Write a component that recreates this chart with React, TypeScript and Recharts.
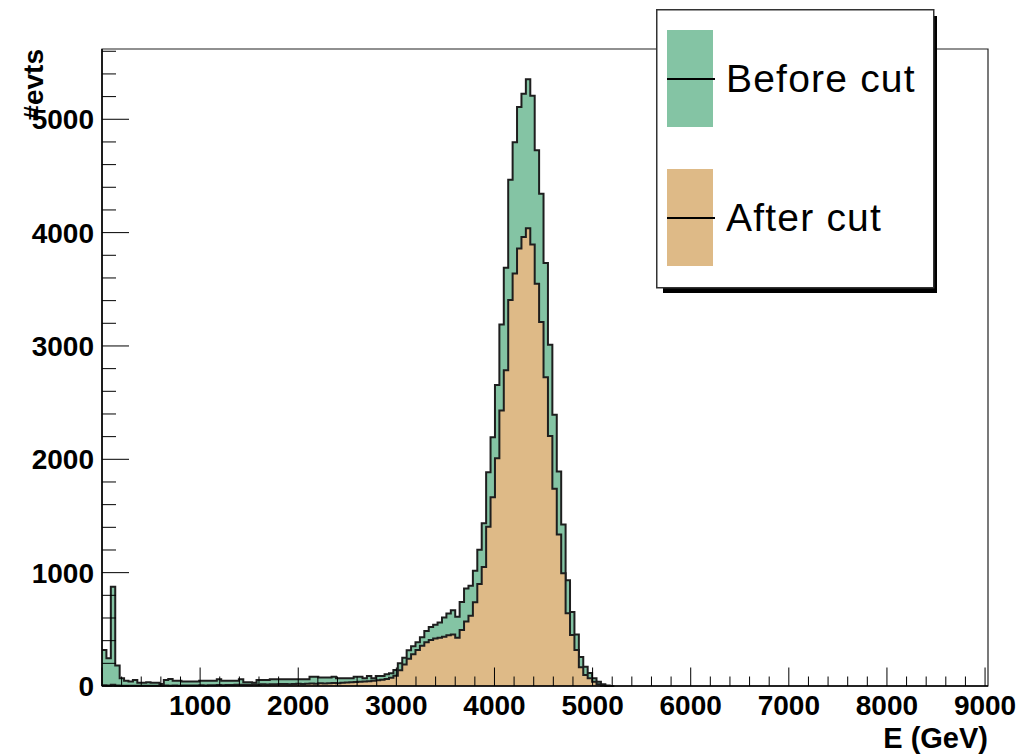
import { Area, AreaChart, Legend, ReferenceArea, XAxis, YAxis } from "recharts";

// energy histogram, 45 GeV bins starting at 0
const BIN_WIDTH = 45;
const X_MAX = 9030;
const Y_MAX = 5620;

const beforeCut = [
  317, 244, 876, 180, 68, 47, 40, 53, 29, 29,
  32, 29, 29, 18, 53, 62, 47, 47, 40, 40,
  40, 40, 47, 47, 47, 47, 59, 47, 47, 47,
  47, 59, 32, 32, 29, 53, 53, 53, 59, 59,
  59, 59, 59, 59, 59, 59, 59, 82, 82, 76,
  76, 76, 82, 68, 68, 68, 68, 82, 82, 68,
  88, 68, 88, 88, 103, 112, 141, 200, 250, 315,
  350, 385, 430, 485, 520, 540, 560, 605, 640, 668,
  612, 741, 860, 885, 1017, 1202, 1436, 1886, 2194, 2655,
  3190, 3690, 4467, 4797, 5109, 5226, 5353, 5208, 4726, 4343,
  3733, 3010, 2393, 1893, 1425, 932, 652, 455, 256, 170,
  115, 68, 38, 15, 5, 0,
];

const afterCut = [
  6, 4, 12, 5, 3, 2, 3, 2, 2, 3,
  2, 3, 2, 3, 4, 3, 4, 3, 4, 5,
  4, 5, 6, 5, 6, 7, 8, 7, 8, 9,
  10, 12, 10, 12, 14, 12, 15, 14, 16, 15,
  17, 18, 16, 18, 20, 18, 20, 22, 20, 24,
  22, 24, 26, 25, 28, 30, 32, 35, 38, 40,
  42, 46, 50, 55, 62, 72, 90, 140, 190, 240,
  280, 317, 355, 385, 405, 418, 426, 435, 448, 455,
  425, 495, 570, 620, 740, 900, 1050, 1405, 1665, 2010,
  2430, 2785, 3405, 3640, 3860, 3962, 4038, 3895, 3548, 3212,
  2723, 2205, 1741, 1336, 994, 641, 450, 317, 165, 97,
  68, 38, 15, 5, 0, 0,
];

const xLabels = [1000, 2000, 3000, 4000, 5000, 6000, 7000, 8000, 9000];
const yLabels = [0, 1000, 2000, 3000, 4000, 5000];
const X_MINOR = 200;
const Y_MINOR = 200;

const series = [
  { key: "before", name: "Before cut", color: "#84c4a4" },
  { key: "after", name: "After cut", color: "#deba87" },
];

const histogram = beforeCut.map((v, i) => ({
  e: i * BIN_WIDTH,
  before: v,
  after: afterCut[i],
}));
histogram.push({ e: beforeCut.length * BIN_WIDTH, before: 0, after: 0 });

const xTicks: number[] = [];
for (let v = 0; v <= 9000; v += X_MINOR) xTicks.push(v);
const yTicks: number[] = [];
for (let v = 0; v <= 5600; v += Y_MINOR) yTicks.push(v);

const FONT = "'Liberation Sans', Arial, Helvetica, sans-serif";

function XTick(props: any) {
  const { x, y, payload } = props;
  const v = payload.value as number;
  const major = xLabels.includes(v) || v === 0;
  return (
    <g>
      <line x1={x} x2={x} y1={y} y2={y - (major ? 18.5 : 9.5)} stroke="#000" strokeWidth={1} />
      {xLabels.includes(v) && (
        <text x={x} y={y + 29} textAnchor="middle" fontFamily={FONT} fontWeight="bold" fontSize={28} fill="#000">
          {v}
        </text>
      )}
    </g>
  );
}

function YTick(props: any) {
  const { x, y, payload } = props;
  const v = payload.value as number;
  const major = yLabels.includes(v);
  return (
    <g>
      <line x1={x} x2={x + (major ? 27 : 14)} y1={y} y2={y} stroke="#000" strokeWidth={1} />
      {major && (
        <text x={x - 8} y={y + 10} textAnchor="end" fontFamily={FONT} fontWeight="bold" fontSize={28} fill="#000">
          {v}
        </text>
      )}
    </g>
  );
}

function HistLegend() {
  return (
    <svg width={290} height={300} style={{ display: "block" }}>
      <rect x={7} y={7} width={274} height={277} fill="#000" />
      <rect x={0.75} y={0.75} width={277} height={278} fill="#fff" stroke="#333" strokeWidth={1.5} />
      {series.map((s, i) => {
        const top = 21 + i * 139;
        return (
          <g key={s.key}>
            <rect x={11} y={top} width={46} height={97} fill={s.color} />
            <line x1={11} x2={59} y1={top + 49} y2={top + 49} stroke="#000" strokeWidth={2} />
            <text x={70} y={top + 62} fontFamily={FONT} fontSize={39} letterSpacing={1.2} fill="#000">
              {s.name}
            </text>
          </g>
        );
      })}
    </svg>
  );
}

export default function App() {
  return (
    <div style={{ position: "absolute", left: 0, top: 0, width: 1034, height: 754, background: "#fff" }}>
      <AreaChart
        width={1034}
        height={754}
        data={histogram}
        margin={{ top: 49, right: 46, bottom: 0, left: 0 }}
      >
        {series.map((s) => (
          <Area
            key={s.key}
            type="stepAfter"
            dataKey={s.key}
            name={s.name}
            stroke="#1e1e1e"
            strokeWidth={2}
            fill={s.color}
            fillOpacity={1}
            dot={false}
            activeDot={false}
            isAnimationActive={false}
          />
        ))}
        <ReferenceArea x1={0} x2={X_MAX} y1={0} y2={Y_MAX} fill="none" stroke="#222" strokeWidth={1.2} />
        <XAxis
          type="number"
          dataKey="e"
          domain={[0, X_MAX]}
          ticks={xTicks}
          interval={0}
          height={68}
          tickSize={0}
          tickMargin={0}
          tick={<XTick />}
          axisLine={{ stroke: "#000", strokeWidth: 1.5 }}
          label={{
            content: () => (
              <text x={988} y={748} textAnchor="end" fontFamily={FONT} fontWeight="bold" fontSize={29} fill="#000">
                E (GeV)
              </text>
            ),
          }}
        />
        <YAxis
          type="number"
          domain={[0, Y_MAX]}
          ticks={yTicks}
          interval={0}
          width={102}
          tickSize={0}
          tickMargin={0}
          tick={<YTick />}
          axisLine={{ stroke: "#000", strokeWidth: 1.5 }}
          label={{
            content: () => (
              <text
                x={43}
                y={49}
                transform="rotate(-90 43 49)"
                textAnchor="end"
                fontFamily={FONT}
                fontWeight="bold"
                fontSize={28}
                fill="#000"
              >
                #evts
              </text>
            ),
          }}
        />
        <Legend
          layout="horizontal"
          verticalAlign="middle"
          align="center"
          wrapperStyle={{ left: 656, top: 9, width: 290, height: 300 }}
          content={() => <HistLegend />}
        />
      </AreaChart>
    </div>
  );
}
